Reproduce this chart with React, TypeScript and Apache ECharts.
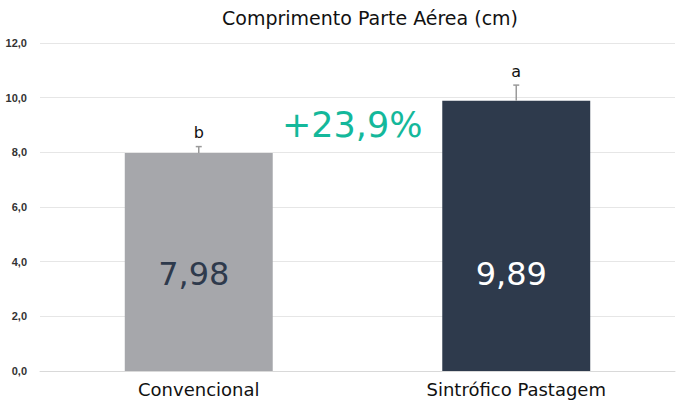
import React, { useEffect, useRef } from "react";
import * as echarts from "echarts";

const categories = ["Convencional", "Sintrófico Pastagem"];
const values = [7.98, 9.89];
const errors = [0.23, 0.57];
const letters = ["b", "a"];
const barColors = ["#a6a7ab", "#2e3a4c"];
const valueLabelColors = ["#2e3a4c", "#ffffff"];
const titleText = "Comprimento Parte Aérea (cm)";
const increaseText = "+23,9%";

export default function App() {
  const ref = useRef<HTMLDivElement>(null);
  useEffect(() => {
    document.body.style.margin = "0";
    const chart = echarts.init(ref.current!, null, { renderer: "svg" });
    const fmt = (v: number) => v.toFixed(2).replace(".", ",");
    chart.setOption({
      animation: false,
      backgroundColor: "#ffffff",
      title: {
        text: titleText,
        left: 365,
        textAlign: "center",
        top: 3,
        textStyle: { fontFamily: "DejaVu Sans", fontSize: 19, fontWeight: "normal", color: "#111" },
      },
      grid: { left: 40, right: 5, top: 43, bottom: 39, containLabel: false },
      xAxis: {
        type: "category",
        data: categories,
        axisLine: { lineStyle: { color: "#d9d9d9" } },
        axisTick: { show: false },
        axisLabel: { margin: 9, fontFamily: "DejaVu Sans", fontSize: 18, color: "#111" },
      },
      yAxis: {
        type: "value",
        min: 0,
        max: 12,
        interval: 2,
        axisLine: { show: false },
        axisTick: { show: false },
        splitLine: { lineStyle: { color: "#e6e6e6", width: 1 } },
        axisLabel: {
          margin: 13,
          fontFamily: "Liberation Sans",
          fontSize: 11,
          fontWeight: "bold",
          color: "#333",
          formatter: (v: number) => v.toFixed(1).replace(".", ","),
        },
      },
      series: [
        {
          type: "bar",
          barWidth: "46.6%",
          data: values.map((v, i) => ({
            value: v,
            itemStyle: { color: barColors[i] },
            label: { color: valueLabelColors[i] },
          })),
          label: {
            show: true,
            position: "insideBottom",
            distance: 81,
            offset: [-5, 0],
            fontFamily: "DejaVu Sans",
            fontSize: 32,
            formatter: (p: any) => fmt(p.value),
          },
        },
        {
          type: "custom",
          data: values.map((v, i) => [i, v, errors[i]]),
          renderItem: (params: any, api: any) => {
            const i = api.value(0);
            const v = api.value(1);
            const e = api.value(2);
            const top = api.coord([i, v + e]);
            const base = api.coord([i, v]);
            return {
              type: "group",
              children: [
                {
                  type: "line",
                  shape: { x1: top[0], y1: top[1], x2: base[0], y2: base[1] },
                  style: { stroke: "#9a9a9a", lineWidth: 1.5 },
                },
                {
                  type: "line",
                  shape: { x1: top[0] - 3, y1: top[1], x2: top[0] + 3, y2: top[1] },
                  style: { stroke: "#9a9a9a", lineWidth: 1.5 },
                },
                {
                  type: "text",
                  x: top[0],
                  y: top[1] - 14,
                  style: {
                    text: letters[i],
                    fontFamily: "DejaVu Sans",
                    fontSize: 16,
                    fill: "#111",
                    align: "center",
                    verticalAlign: "middle",
                  },
                },
              ],
            };
          },
          z: 5,
        },
      ],
      graphic: [
        {
          type: "text",
          x: 282,
          y: 125,
          style: {
            text: increaseText,
            fontFamily: "DejaVu Sans",
            fontSize: 35,
            fill: "#14b89b",
            verticalAlign: "middle",
          },
        },
      ],
    });
    return () => chart.dispose();
  }, []);
  return <div ref={ref} style={{ width: 680, height: 410 }} />;
}
